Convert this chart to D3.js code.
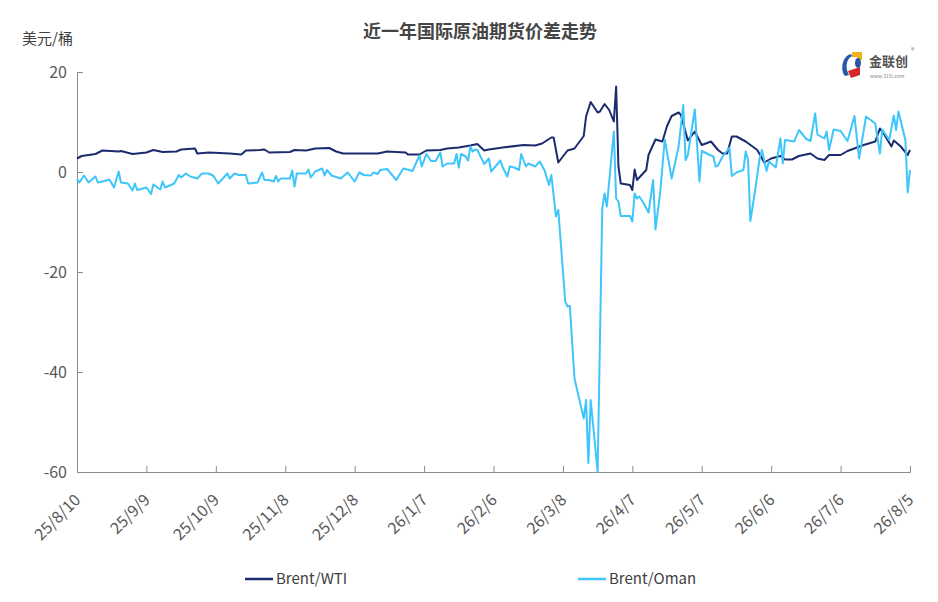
<!DOCTYPE html>
<html>
<head>
<meta charset="utf-8">
<script src="https://cdn.jsdelivr.net/npm/d3@7"></script>
<style>
  body { margin: 0; background: #fff; }
  svg { font-family: "Noto Sans CJK SC", "Noto Sans", sans-serif; }
</style>
</head>
<body>
<svg id="chart"></svg>
<script>
// Brent/WTI spread (USD/bbl)
const wtiDates = ['2025-08-10','2025-08-12','2025-08-18','2025-08-21','2025-08-28','2025-08-29','2025-09-03','2025-09-09','2025-09-12','2025-09-16',
  '2025-09-22','2025-09-24','2025-09-30','2025-10-01','2025-10-06','2025-10-15','2025-10-20','2025-10-22','2025-10-28','2025-10-30',
  '2025-11-01','2025-11-10','2025-11-12','2025-11-17','2025-11-21','2025-11-27','2025-11-30','2025-12-03','2025-12-10','2025-12-18',
  '2025-12-22','2025-12-30','2025-12-31','2026-01-05','2026-01-08','2026-01-14','2026-01-17','2026-01-22','2026-01-27','2026-01-30',
  '2026-02-02','2026-02-04','2026-02-10','2026-02-19','2026-02-24','2026-02-27','2026-03-03','2026-03-04','2026-03-06','2026-03-10',
  '2026-03-13','2026-03-17','2026-03-18','2026-03-20','2026-03-23','2026-03-24','2026-03-26','2026-03-28','2026-03-30','2026-03-31',
  '2026-04-01','2026-04-02','2026-04-06','2026-04-07','2026-04-08','2026-04-09','2026-04-13','2026-04-14','2026-04-17','2026-04-20',
  '2026-04-22','2026-04-24','2026-04-27','2026-04-28','2026-05-01','2026-05-04','2026-05-07','2026-05-11','2026-05-14','2026-05-16',
  '2026-05-18','2026-05-20','2026-05-22','2026-05-26','2026-05-31','2026-06-03','2026-06-06','2026-06-10','2026-06-12','2026-06-15',
  '2026-06-18','2026-06-23','2026-06-26','2026-06-29','2026-07-01','2026-07-06','2026-07-09','2026-07-16','2026-07-21','2026-07-23',
  '2026-07-25','2026-07-28','2026-07-29','2026-08-01','2026-08-04','2026-08-05'];
const wtiValues = [2.7,3.2,3.6,4.3,4.1,4.2,3.6,3.9,4.4,4.0,
  4.1,4.5,4.7,3.7,3.9,3.7,3.5,4.3,4.4,4.5,
  3.9,4.0,4.4,4.3,4.7,4.8,4.1,3.7,3.7,3.7,
  4.1,3.9,3.5,3.5,4.3,4.4,4.7,4.9,5.3,5.6,
  4.3,4.5,4.9,5.4,5.3,5.7,6.9,6.9,1.9,4.3,
  4.7,7.2,11.1,14.0,11.9,12.1,13.6,12.4,10.1,17.1,
  1.1,-2.3,-2.6,-3.6,0.5,-1.6,0.4,3.4,6.5,6.1,
  9.2,11.2,11.9,11.4,6.3,8.1,5.4,6.1,4.4,3.7,
  3.7,7.1,7.1,6.1,4.4,1.9,2.7,3.2,2.5,2.5,
  3.2,3.7,2.7,2.4,3.4,3.4,4.2,5.4,6.1,8.7,
  7.4,5.1,6.3,5.1,3.4,4.4];

// Brent/Oman spread (USD/bbl)
const omanDates = ['2025-08-10','2025-08-11','2025-08-13','2025-08-15','2025-08-18','2025-08-19','2025-08-21','2025-08-24','2025-08-26','2025-08-28',
  '2025-08-29','2025-09-01','2025-09-03','2025-09-04','2025-09-05','2025-09-09','2025-09-11','2025-09-12','2025-09-15','2025-09-16',
  '2025-09-17','2025-09-21','2025-09-23','2025-09-24','2025-09-26','2025-09-28','2025-10-01','2025-10-03','2025-10-06','2025-10-08',
  '2025-10-10','2025-10-14','2025-10-15','2025-10-17','2025-10-19','2025-10-22','2025-10-23','2025-10-27','2025-10-29','2025-10-30',
  '2025-11-01','2025-11-03','2025-11-04','2025-11-05','2025-11-06','2025-11-10','2025-11-11','2025-11-12','2025-11-13','2025-11-17',
  '2025-11-18','2025-11-19','2025-11-21','2025-11-24','2025-11-25','2025-11-26','2025-11-28','2025-12-02','2025-12-05','2025-12-08',
  '2025-12-10','2025-12-12','2025-12-15','2025-12-16','2025-12-18','2025-12-19','2025-12-22','2025-12-26','2025-12-29','2026-01-02',
  '2026-01-05','2026-01-06','2026-01-08','2026-01-10','2026-01-12','2026-01-14','2026-01-15','2026-01-17','2026-01-20','2026-01-21',
  '2026-01-22','2026-01-23','2026-01-25','2026-01-26','2026-01-27','2026-01-28','2026-01-29','2026-01-30','2026-02-02','2026-02-04',
  '2026-02-05','2026-02-09','2026-02-10','2026-02-12','2026-02-13','2026-02-15','2026-02-17','2026-02-18','2026-02-20','2026-02-21',
  '2026-02-24','2026-02-26','2026-02-28','2026-03-02','2026-03-03','2026-03-05','2026-03-06','2026-03-09','2026-03-10','2026-03-11',
  '2026-03-13','2026-03-17','2026-03-18','2026-03-19','2026-03-20','2026-03-23','2026-03-25','2026-03-26','2026-03-27','2026-03-30',
  '2026-03-31','2026-04-01','2026-04-02','2026-04-06','2026-04-07','2026-04-08','2026-04-09','2026-04-10','2026-04-12','2026-04-14',
  '2026-04-16','2026-04-17','2026-04-19','2026-04-21','2026-04-24','2026-04-27','2026-04-29','2026-04-30','2026-05-01','2026-05-04',
  '2026-05-06','2026-05-07','2026-05-10','2026-05-12','2026-05-13','2026-05-14','2026-05-16','2026-05-19','2026-05-20','2026-05-22',
  '2026-05-25','2026-05-26','2026-05-27','2026-05-28','2026-05-30','2026-06-01','2026-06-02','2026-06-04','2026-06-05','2026-06-08',
  '2026-06-10','2026-06-11','2026-06-12','2026-06-16','2026-06-18','2026-06-21','2026-06-23','2026-06-25','2026-06-26','2026-06-29',
  '2026-06-30','2026-07-01','2026-07-03','2026-07-06','2026-07-09','2026-07-12','2026-07-14','2026-07-17','2026-07-21','2026-07-23',
  '2026-07-24','2026-07-27','2026-07-29','2026-07-30','2026-07-31','2026-08-03','2026-08-04','2026-08-05'];
const omanValues = [-1.4,-2.1,-0.7,-2.1,-0.9,-2.1,-1.9,-1.5,-3.1,0.1,
  -2.1,-2.3,-3.7,-2.3,-3.6,-3.1,-4.4,-2.5,-3.5,-1.9,
  -3.1,-2.3,-0.6,-1.1,-0.3,-0.9,-1.3,-0.3,-0.3,-0.8,
  -2.3,-0.3,-1.3,-0.3,-0.6,-0.6,-2.3,-2.1,-0.1,-1.6,
  -1.6,-1.9,-0.8,-1.9,-1.3,-1.3,0.3,-2.9,-0.3,-0.3,
  0.5,-1.1,0.1,0.7,-0.7,0.4,-0.7,-1.3,-0.1,-1.9,
  -0.1,-0.6,-0.7,-0.1,-0.4,0.4,0.6,-1.6,0.7,0.2,
  3.3,1.1,3.6,2.2,2.2,3.9,1.1,1.7,1.7,3.6,
  0.9,3.6,3.1,2.3,5.1,4.1,4.5,4.4,1.6,2.7,
  0.1,2.3,0.9,-0.9,1.1,0.9,0.4,3.6,1.1,1.7,
  1.1,2.1,0.4,-2.6,-0.6,-8.9,-7.6,-25.9,-26.9,-26.8,
  -41.3,-49.3,-45.6,-58.2,-45.6,-60.0,-7.3,-4.3,-6.9,8.1,
  -5.3,-5.9,-8.8,-8.8,-9.9,-4.3,-5.3,-4.9,-6.3,-8.1,
  -1.6,-11.5,-4.3,6.5,-1.3,5.1,13.4,2.4,3.4,12.5,
  -1.9,4.2,3.5,3.1,1.1,1.3,3.1,4.9,-0.8,-0.1,
  0.4,4.1,2.4,-9.8,-3.9,2.7,4.4,0.2,2.1,0.9,
  6.7,1.7,6.4,6.1,8.4,6.7,6.2,11.7,7.5,6.7,
  8.1,4.4,8.5,8.2,6.2,11.2,2.7,11.1,9.7,3.7,
  8.5,6.4,11.3,8.4,12.1,6.4,-4.1,0.4];

const seriesNames = ['Brent/WTI', 'Brent/Oman'];
const seriesColors = ['#1c2b6e', '#3ec6fb'];
const xTickDates = ['2025-08-10','2025-09-09','2025-10-09','2025-11-08','2025-12-08','2026-01-07','2026-02-06',
  '2026-03-08','2026-04-07','2026-05-07','2026-06-06','2026-07-06','2026-08-05'];
const yTicks = [20, 0, -20, -40, -60];

const width = 938;
const height = 602;
const margin = { top: 72, right: 28, bottom: 130, left: 77 };
const parse = d3.timeParse('%Y-%m-%d');

const svg = d3.select('#chart')
  .attr('width', width)
  .attr('height', height);

const x = d3.scaleTime()
  .domain([parse(xTickDates[0]), parse(xTickDates[xTickDates.length - 1])])
  .range([margin.left, width - margin.right]);

const y = d3.scaleLinear()
  .domain([-60, 20])
  .range([height - margin.bottom, margin.top]);

const series = [
  wtiDates.map((d, i) => ({ date: parse(d), value: wtiValues[i] })),
  omanDates.map((d, i) => ({ date: parse(d), value: omanValues[i] }))
];

// title + unit
svg.append('text')
  .attr('x', 480)
  .attr('y', 38)
  .attr('text-anchor', 'middle')
  .attr('font-size', 18)
  .attr('font-weight', 'bold')
  .attr('fill', '#454545')
  .text('近一年国际原油期货价差走势');

svg.append('text')
  .attr('x', 22)
  .attr('y', 44)
  .attr('font-size', 15)
  .attr('fill', '#404040')
  .text('美元/桶');

// axes
const yAxis = d3.axisLeft(y)
  .tickValues(yTicks)
  .tickFormat(d => String(d))   // plain hyphen, like the original
  .tickSize(-6)
  .tickPadding(10);
const gy = svg.append('g')
  .attr('transform', `translate(${margin.left},0)`)
  .call(yAxis);
gy.selectAll('text')
  .attr('font-size', 16)
  .attr('fill', '#595959')
  .attr('font-family', '"Noto Sans CJK SC", sans-serif');

const xAxis = d3.axisBottom(x)
  .tickValues(xTickDates.map(parse))
  .tickFormat(d3.timeFormat('%y/%-m/%-d'))
  .tickSize(-6);
const gx = svg.append('g')
  .attr('transform', `translate(0,${height - margin.bottom})`)
  .call(xAxis);
gx.selectAll('text')
  .attr('font-size', 16)
  .attr('fill', '#595959')
  .attr('font-family', '"Noto Sans CJK SC", sans-serif')
  .attr('text-anchor', 'end')
  .attr('dy', null)
  .attr('y', 0)
  .attr('transform', 'translate(4,29) rotate(-45)');

svg.selectAll('.domain, .tick line').attr('stroke', '#8c8c8c');

// lines
const line = d3.line()
  .x(d => x(d.date))
  .y(d => y(d.value));

series.forEach((s, i) => {
  svg.append('path')
    .datum(s)
    .attr('fill', 'none')
    .attr('stroke', seriesColors[i])
    .attr('stroke-width', 2)
    .attr('stroke-linejoin', 'round')
    .attr('d', line);
});

// legend
const legendX = [245, 578];
seriesNames.forEach((name, i) => {
  const g = svg.append('g').attr('transform', `translate(${legendX[i]},579)`);
  g.append('line')
    .attr('x1', 0).attr('x2', 28)
    .attr('stroke', seriesColors[i])
    .attr('stroke-width', 2.5);
  g.append('text')
    .attr('x', 31)
    .attr('y', 5)
    .attr('font-size', 15)
    .attr('fill', '#404040')
    .text(name);
});

// logo
const logo = svg.append('g');
logo.append('path').attr('d', 'M851,54 C842,56 840,70 845,76 L849,75 C845,68 846,59 852,56 Z').attr('fill', '#2a56a6');
logo.append('path').attr('d', 'M852,52 L862,52 L862,60 L857,60 L857,57 L852,57 Z').attr('fill', '#f2b21b');
logo.append('ellipse').attr('cx', 858).attr('cy', 63).attr('rx', 3).attr('ry', 5).attr('fill', '#2a56a6');
logo.append('path').attr('d', 'M848,71 L860,67 L860,75 L851,78 Z').attr('fill', '#d3262b');
logo.append('text').attr('x', 869).attr('y', 66).attr('font-size', 13).attr('font-weight', 'bold').attr('fill', '#555').text('金联创');
logo.append('text').attr('x', 911).attr('y', 53).attr('font-size', 7).attr('fill', '#777').text('®');
logo.append('text').attr('x', 870).attr('y', 78).attr('font-size', 5).attr('fill', '#888').text('www.315i.com');
</script>
</body>
</html>
